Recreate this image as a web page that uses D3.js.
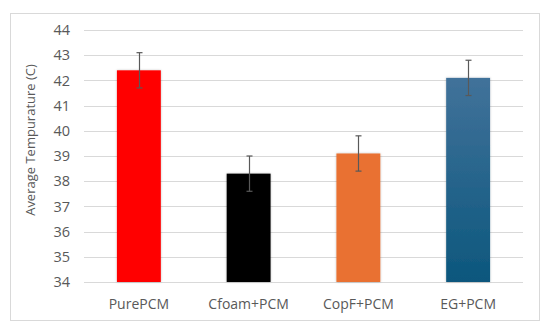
<!DOCTYPE html>
<html lang="en">
<head>
<meta charset="utf-8">
<title>Average Tempurature</title>
<script src="https://d3js.org/d3.v7.min.js"></script>
<style>
  body { margin: 0; background: #fff; }
  .grid line { stroke: #d9d9d9; stroke-width: 1px; }
  .lbl { font-family: "Open Sans", sans-serif; fill: #595959; }
</style>
</head>
<body>
<svg width="550" height="333"></svg>
<script>
var categories = ["PurePCM", "Cfoam+PCM", "CopF+PCM", "EG+PCM"];
var values = [42.4, 38.3, 39.1, 42.1];
var errors = [0.7, 0.7, 0.7, 0.7];
var yTicks = [34, 35, 36, 37, 38, 39, 40, 41, 42, 43, 44];

var svg = d3.select("svg");

// chart frame
svg.append("rect")
  .attr("x", 10.5).attr("y", 13.5)
  .attr("width", 529).attr("height", 307)
  .attr("fill", "#fff")
  .attr("stroke", "#d9d9d9");

var x = d3.scaleBand()
  .domain(categories)
  .range([84, 523])
  .paddingInner(0.6)
  .paddingOuter(0.3);

var y = d3.scaleLinear()
  .domain([34, 44])
  .range([282, 30]);

var defs = svg.append("defs");
var grad = defs.append("linearGradient")
  .attr("id", "egGrad")
  .attr("x1", 0).attr("y1", 0).attr("x2", 0).attr("y2", 1);
grad.append("stop").attr("offset", "0%").attr("stop-color", "#41729a");
grad.append("stop").attr("offset", "100%").attr("stop-color", "#0c577d");

var shadow = defs.append("filter").attr("id", "shadow")
  .attr("x", "-20%").attr("y", "-5%").attr("width", "140%").attr("height", "110%");
shadow.append("feDropShadow")
  .attr("dx", 0).attr("dy", 0).attr("stdDeviation", 1)
  .attr("flood-color", "#000").attr("flood-opacity", 0.25);

var colors = ["#ff0000", "#000000", "#e97132", "url(#egGrad)"];

// gridlines
svg.append("g").attr("class", "grid")
  .selectAll("line")
  .data(yTicks)
  .join("line")
  .attr("x1", 84).attr("x2", 523)
  .attr("y1", d => Math.round(y(d)) + 0.5)
  .attr("y2", d => Math.round(y(d)) + 0.5);

// y tick labels
svg.append("g")
  .selectAll("text")
  .data(yTicks)
  .join("text")
  .attr("class", "lbl")
  .attr("x", 70)
  .attr("y", d => y(d))
  .attr("dy", "0.36em")
  .attr("text-anchor", "end")
  .attr("font-size", 14.5)
  .text(d => d);

// bars
svg.append("g")
  .selectAll("rect")
  .data(categories)
  .join("rect")
  .attr("x", d => x(d))
  .attr("y", (d, i) => y(values[i]))
  .attr("width", x.bandwidth())
  .attr("height", (d, i) => y(34) - y(values[i]))
  .attr("fill", (d, i) => colors[i])
  .attr("filter", "url(#shadow)");

// error bars
var eb = svg.append("g")
  .attr("stroke", "#595959")
  .attr("stroke-width", 1.2);
categories.forEach(function(c, i) {
  var cx = Math.round(x(c) + x.bandwidth() / 2) + 0.5;
  var top = y(values[i] + errors[i]);
  var bot = y(values[i] - errors[i]);
  eb.append("line").attr("x1", cx).attr("x2", cx).attr("y1", top).attr("y2", bot);
  eb.append("line").attr("x1", cx - 3).attr("x2", cx + 3).attr("y1", top).attr("y2", top);
  eb.append("line").attr("x1", cx - 3).attr("x2", cx + 3).attr("y1", bot).attr("y2", bot);
});

// x labels
svg.append("g")
  .selectAll("text")
  .data(categories)
  .join("text")
  .attr("class", "lbl")
  .attr("x", d => x(d) + x.bandwidth() / 2)
  .attr("y", 309)
  .attr("text-anchor", "middle")
  .attr("font-size", 14)
  .text(d => d);

// y axis title
svg.append("text")
  .attr("class", "lbl")
  .attr("transform", "translate(35,140) rotate(-90)")
  .attr("text-anchor", "middle")
  .attr("font-size", 13)
  .text("Average Tempurature (C)");
</script>
</body>
</html>
